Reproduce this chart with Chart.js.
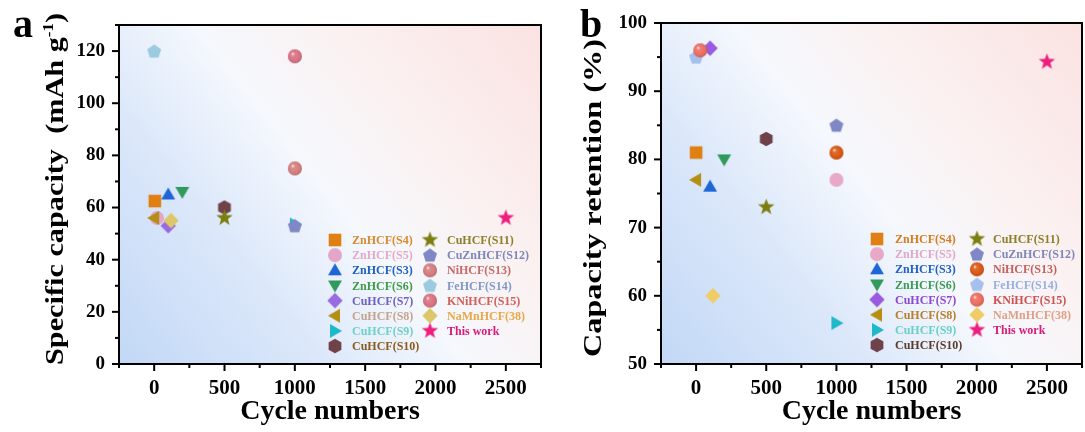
<!DOCTYPE html>
<html>
<head>
<meta charset="utf-8">
<script src="https://cdn.jsdelivr.net/npm/chart.js"></script>
<style>
  html, body { margin: 0; padding: 0; background: #fff; overflow: hidden; }
  .panel { position: absolute; top: 0; height: 432px; }
  #pa { left: 0; width: 549px; }
  #pb { left: 543px; width: 547px; }
</style>
<title>Capacity vs cycles</title>
</head>
<body>
<div class="panel" id="pa"><canvas id="chartA"></canvas></div>
<div class="panel" id="pb"><canvas id="chartB"></canvas></div>

<script>
// ---- data ----
const seriesNames = ['ZnHCF(S4)', 'ZnHCF(S5)', 'ZnHCF(S3)', 'ZnHCF(S6)', 'CuHCF(S7)', 'CuHCF(S8)', 'CuHCF(S9)', 'CuHCF(S10)',
                     'CuHCF(S11)', 'CuZnHCF(S12)', 'NiHCF(S13)', 'FeHCF(S14)', 'KNiHCF(S15)', 'NaMnHCF(38)', 'This work'];

// panel a: specific capacity (mAh g-1)
const capCycles   = [5, 20, 100, 200, 100, 0, 1000, 500, 500, 1000, 1000, 0, 1000, 120, 2500];
const capCapacity = [62.5, 56, 65, 66, 53, 56, 53.5, 60, 56, 53, 75, 120, 118, 55, 56];

// panel b: capacity retention (%)
const retCycles    = [0, 1000, 100, 200, 100, 0, 1000, 500, 500, 1000, 1000, 0, 30, 120, 2500];
const retRetention = [81, 77, 76, 80, 96.3, 77, 56, 83, 73, 85, 81, 95, 96, 60, 94.3];

const xTickLabels = [0, 500, 1000, 1500, 2000, 2500];

const markerKinds = ['square', 'circle', 'up', 'down', 'diamond', 'left', 'right', 'hexagon',
                     'star', 'pentagon', 'sphere', 'pentagon', 'sphere', 'diamond', 'star'];

const markerColorsA = ['#e07f12', '#e3a6c8', '#1e66d8', '#2f9a5c', '#9a6be0', '#b48f14', '#1fb8c8', '#6e4248',
                       '#7c7f10', '#7f88c4', '#d47a7a', '#9ccbe0', '#d86e80', '#dcc76a', '#ee1e7e'];
const markerColorsB = ['#e07f12', '#e8a8c8', '#1e66d8', '#2f9a5c', '#9b5be0', '#b48f14', '#1fb8c8', '#6e4248',
                       '#7c7f10', '#7f88c4', '#d9540e', '#a6bfec', '#ec6a5c', '#f0cc66', '#ee1e7e'];
const labelColorsA = ['#d98a2e', '#e3a9c8', '#2060c0', '#3f9a4a', '#6f5fc0', '#c4a48e', '#6fd0c8', '#8a5a1e',
                      '#8c7e2a', '#7f86b8', '#c76a6a', '#8098c8', '#d0605a', '#e8a84a', '#d81b7a'];
const labelColorsB = ['#d97c1e', '#e0a8c8', '#2060c8', '#3c9a55', '#8c48d0', '#b8802a', '#6acfc8', '#5a3a2a',
                      '#8c7e2a', '#7f86b8', '#c46060', '#98b0e0', '#d05050', '#e0a088', '#d81b7a'];

const SERIF = "'Liberation Serif', 'Times New Roman', serif";

function shade(hex, f) {
  let n = parseInt(hex.slice(1), 16);
  let r = n >> 16, g = (n >> 8) & 255, b = n & 255;
  const t = f < 0 ? 0 : 255, p = Math.abs(f);
  r = Math.round((t - r) * p + r); g = Math.round((t - g) * p + g); b = Math.round((t - b) * p + b);
  return 'rgb(' + r + ',' + g + ',' + b + ')';
}

function polygon(g, cx, cy, r, n, start) {
  for (let i = 0; i < n; i++) {
    const a = start + i * 2 * Math.PI / n;
    const x = cx + r * Math.cos(a), y = cy + r * Math.sin(a);
    if (i === 0) g.moveTo(x, y); else g.lineTo(x, y);
  }
  g.closePath();
}

// marker images used as pointStyle
function marker(kind, color, size) {
  const s = size + 6;
  const c = document.createElement('canvas');
  c.width = c.height = s;
  const g = c.getContext('2d');
  const m = s / 2, r = size / 2;
  g.fillStyle = color;
  g.beginPath();
  const deg = Math.PI / 180;
  switch (kind) {
    case 'square': g.rect(m - r * 0.9, m - r * 0.9, r * 1.8, r * 1.8); break;
    case 'circle': g.arc(m, m, r, 0, 2 * Math.PI); break;
    case 'sphere': {
      const grd = g.createRadialGradient(m - r * 0.35, m - r * 0.4, 0, m, m, r * 1.05);
      grd.addColorStop(0, 'rgba(255,255,255,0.95)');
      grd.addColorStop(0.25, shade(color, 0.15));
      grd.addColorStop(0.8, color);
      grd.addColorStop(1, shade(color, -0.25));
      g.fillStyle = grd;
      g.arc(m, m, r, 0, 2 * Math.PI);
      break;
    }
    case 'up': polygon(g, m, m + 1, r * 1.15, 3, -90 * deg); break;
    case 'down': polygon(g, m, m - 1, r * 1.15, 3, 90 * deg); break;
    case 'left': polygon(g, m + 1, m, r * 1.15, 3, 180 * deg); break;
    case 'right': polygon(g, m - 1, m, r * 1.15, 3, 0); break;
    case 'diamond': polygon(g, m, m, r * 1.1, 4, -90 * deg); break;
    case 'hexagon': polygon(g, m, m, r * 1.05, 6, -90 * deg); break;
    case 'pentagon': polygon(g, m, m + 0.5, r * 1.05, 5, -90 * deg); break;
    case 'star':
      for (let i = 0; i < 10; i++) {
        const a = -90 * deg + i * 36 * deg;
        const rr = i % 2 === 0 ? r * 1.15 : r * 0.48;
        const x = m + rr * Math.cos(a), y = m + rr * Math.sin(a);
        if (i === 0) g.moveTo(x, y); else g.lineTo(x, y);
      }
      g.closePath();
      break;
  }
  g.fill();
  return c;
}

// vertical axis title, drawn as pieces so the unit can carry a superscript
function drawYTitle(ctx, parts, cx, cy, length) {
  ctx.save();
  ctx.translate(cx, cy);
  ctx.rotate(-Math.PI / 2);
  let total = 0;
  parts.forEach(p => { ctx.font = 'bold ' + p.size + 'px ' + SERIF; p.w = ctx.measureText(p.text).width; total += p.w; });
  ctx.scale(length / total, 1);
  ctx.fillStyle = '#000';
  ctx.textAlign = 'left';
  ctx.textBaseline = 'alphabetic';
  let x = -total / 2;
  parts.forEach(p => {
    ctx.font = 'bold ' + p.size + 'px ' + SERIF;
    ctx.fillText(p.text, x, 8 + (p.dy || 0));
    x += p.w;
  });
  ctx.restore();
}

// background, box, ticks, legend, y title and panel letter
function decorPlugin(cfg) {
  return {
    id: 'decor' + cfg.letter,
    beforeDraw(chart) {
      const {ctx, chartArea: a} = chart;
      const grd = ctx.createLinearGradient(a.left, a.bottom, a.right, a.top);
      grd.addColorStop(0, '#c2d8f6');
      grd.addColorStop(0.3, '#dce8fa');
      grd.addColorStop(0.5, '#f5f8fd');
      grd.addColorStop(0.7, '#fbf1f1');
      grd.addColorStop(1, '#fbe2e2');
      ctx.save();
      ctx.fillStyle = grd;
      ctx.fillRect(a.left, a.top, a.right - a.left, a.bottom - a.top);
      ctx.restore();
    },
    afterDraw(chart) {
      const {ctx, chartArea: a, scales} = chart;
      ctx.save();
      // ticks, major and minor
      ctx.strokeStyle = '#000';
      ctx.lineWidth = 2;
      const xs = scales.x, ys = scales.y;
      for (let v = xs.min; v <= xs.max; v += 250) {
        const px = xs.getPixelForValue(v);
        const len = (v % 500 === 0) ? 7 : 4;
        ctx.beginPath(); ctx.moveTo(px, a.bottom); ctx.lineTo(px, a.bottom + len); ctx.stroke();
      }
      for (let v = ys.min; v <= ys.max; v += cfg.minorY) {
        const py = ys.getPixelForValue(v);
        const len = (v % (cfg.minorY * 2) === 0) ? 7 : 4;
        ctx.beginPath(); ctx.moveTo(a.left, py); ctx.lineTo(a.left - len, py); ctx.stroke();
      }
      // frame
      ctx.strokeRect(a.left, a.top, a.right - a.left, a.bottom - a.top);

      // legend
      const lg = cfg.legend;
      ctx.font = 'bold 12px ' + SERIF;
      ctx.textBaseline = 'middle';
      ctx.textAlign = 'left';
      chart.data.datasets.forEach((ds, i) => {
        const col = i < 8 ? 0 : 1;
        const row = i < 8 ? i : i - 8;
        const mx = a.left + lg.markerX[col];
        const tx = a.left + lg.textX[col];
        const y = a.top + lg.top + row * lg.step;
        const img = ds.pointStyle;
        ctx.drawImage(img, mx - img.width / 2, y - img.height / 2);
        ctx.fillStyle = cfg.labelColors[i];
        ctx.fillText(ds.label, tx, y + 1);
      });

      // y title
      drawYTitle(ctx, cfg.yTitle, cfg.yTitleX, cfg.yTitleY, cfg.yTitleLen);

      // panel letter
      ctx.fillStyle = '#000';
      ctx.font = 'bold 40px ' + SERIF;
      ctx.textBaseline = 'alphabetic';
      ctx.fillText(cfg.letter, cfg.letterX, 37);
      ctx.restore();
    }
  };
}

function makeChart(canvasId, xs, ys, markerColors, yCfg, deco) {
  const datasets = seriesNames.map((name, i) => ({
    label: name,
    data: [{x: xs[i], y: ys[i]}],
    pointStyle: marker(markerKinds[i], markerColors[i], markerKinds[i] === 'star' ? 15 : 14),
    pointRadius: 7,
    backgroundColor: markerColors[i],
    borderColor: markerColors[i],
    order: -i
  }));

  return new Chart(document.getElementById(canvasId), {
    type: 'scatter',
    data: {datasets: datasets},
    plugins: [decorPlugin(deco)],
    options: {
      responsive: true,
      maintainAspectRatio: false,
      animation: false,
      events: [],
      layout: {padding: {top: yCfg.top, right: yCfg.right, left: 0, bottom: 0}},
      plugins: {legend: {display: false}, tooltip: {enabled: false}},
      scales: {
        x: {
          type: 'linear',
          min: -250, max: 2750,
          afterFit: (s) => { s.height = 68; },
          border: {display: false},
          grid: {drawOnChartArea: false, drawTicks: true, tickLength: 7, tickColor: 'rgba(0,0,0,0)'},
          ticks: {
            stepSize: 250,
            autoSkip: false,
            maxRotation: 0,
            padding: 5,
            color: '#000',
            font: {family: SERIF, weight: 'bold', size: 21},
            callback: (v) => xTickLabels.includes(v) ? String(v) : ''
          },
          title: {
            display: true,
            text: 'Cycle numbers',
            color: '#000',
            font: {family: SERIF, weight: 'bold', size: 28},
            padding: {top: 0, bottom: 3}
          }
        },
        y: {
          type: 'linear',
          min: yCfg.min, max: yCfg.max,
          afterFit: (s) => { s.width = yCfg.width; },
          border: {display: false},
          grid: {drawOnChartArea: false, drawTicks: true, tickLength: 7, tickColor: 'rgba(0,0,0,0)'},
          ticks: {
            stepSize: yCfg.step,
            autoSkip: false,
            padding: 7,
            color: '#000',
            font: {family: SERIF, weight: 'bold', size: 19},
            callback: (v) => yCfg.labels.includes(v) ? String(v) : ''
          }
        }
      }
    }
  });
}

makeChart('chartA', capCycles, capCapacity, markerColorsA,
  {min: 0, max: 130, step: 10, labels: [0, 20, 40, 60, 80, 100, 120], width: 119, top: 25, right: 2},
  {letter: 'a', letterX: 13, minorY: 10, labelColors: labelColorsA,
   legend: {markerX: [216, 311], textX: [233, 328], top: 215, step: 15.15},
   yTitle: [{text: 'Specific capacity  (mAh g', size: 25}, {text: '-1', size: 14, dy: -10}, {text: ')', size: 25}],
   yTitleX: 55, yTitleY: 189, yTitleLen: 352});

makeChart('chartB', retCycles, retRetention, markerColorsB,
  {min: 50, max: 100, step: 5, labels: [50, 60, 70, 80, 90, 100], width: 118, top: 23, right: 5},
  {letter: 'b', letterX: 37, minorY: 5, labelColors: labelColorsB,
   legend: {markerX: [216, 316], textX: [234, 332], top: 216, step: 15.15},
   yTitle: [{text: 'Capacity retention (%)', size: 25}],
   yTitleX: 50, yTitleY: 198, yTitleLen: 318});
</script>
</body>
</html>
